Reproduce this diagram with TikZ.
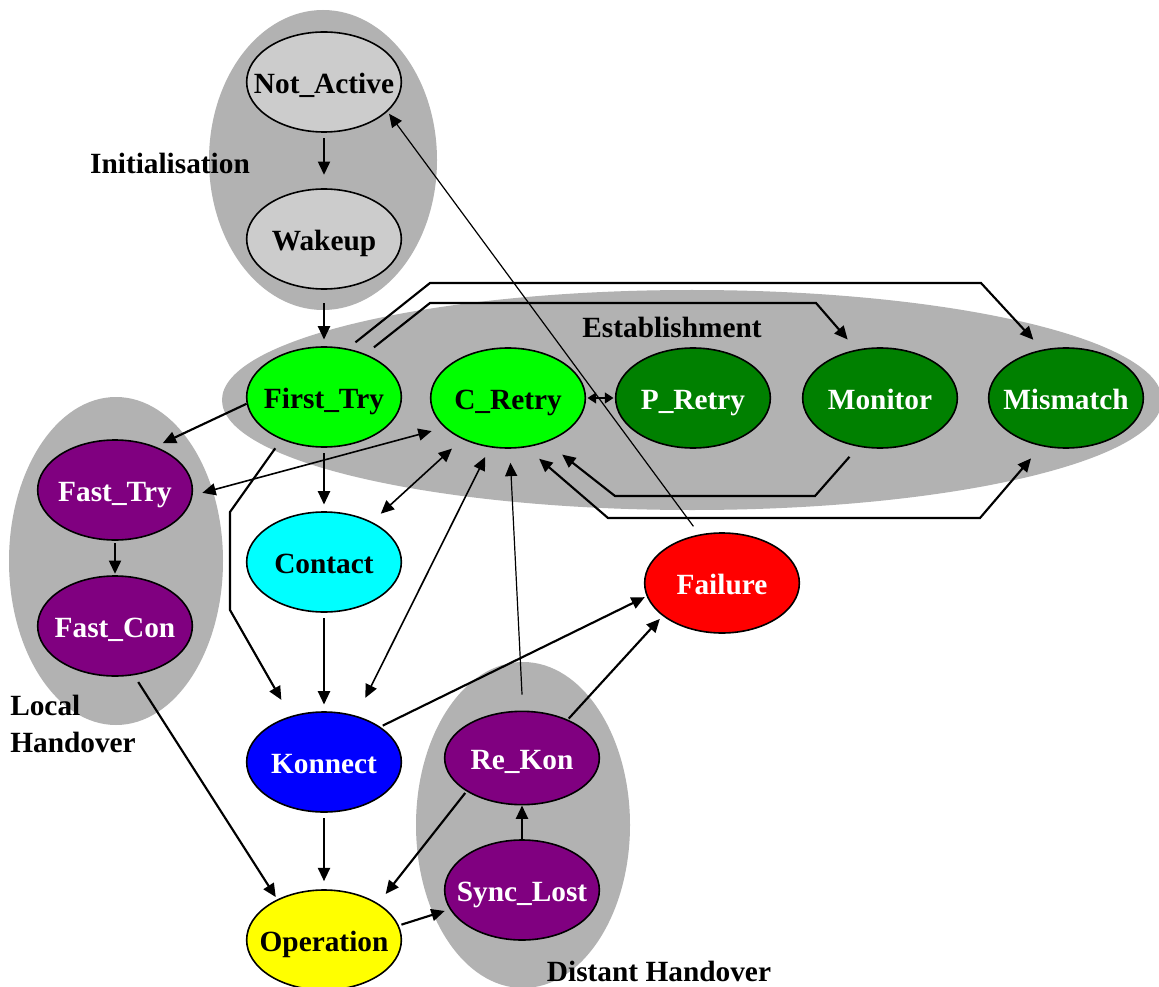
\documentclass[tikz,border=0pt]{standalone}
\usepackage{fontspec}
\setmainfont{Liberation Serif}
\usetikzlibrary{shapes.geometric,arrows.meta}
\definecolor{clgrey}{RGB}{178,178,178}
\definecolor{ltgrey}{RGB}{204,204,204}
\definecolor{lgreen}{RGB}{0,255,0}
\definecolor{dgreen}{RGB}{0,128,0}
\definecolor{purp}{RGB}{128,0,128}
\definecolor{cyanc}{RGB}{0,255,255}
\definecolor{bluec}{RGB}{0,0,255}
\definecolor{yellowc}{RGB}{255,255,0}
\definecolor{redc}{RGB}{255,0,0}
\begin{document}
\begin{tikzpicture}[x=0.75pt,y=-0.75pt,
  font=\bfseries\fontsize{22}{27.75}\selectfont,
  st/.style={ellipse, draw=black, line width=1.2pt, minimum width=116pt, minimum height=75pt, inner sep=0pt},
  wl/.style={label={[text=white, text height=14.5pt, text depth=0pt, yshift=-1.5pt]center:#1}},
  bl/.style={label={[text=black, text height=14.5pt, text depth=0pt, yshift=-1.5pt]center:#1}},
  tip/.style={-{Triangle[length=10pt,width=9pt]}},
  dtip/.style={{Triangle[length=10pt,width=9pt]}-{Triangle[length=10pt,width=9pt]}},
  stip/.style={{Triangle[length=6.5pt,width=8pt]}-{Triangle[length=6.5pt,width=8pt]}},
  w1/.style={line width=1.6pt},
  w2/.style={line width=1.2pt},
  w3/.style={line width=0.9pt}]
\fill[white] (0,0) rectangle (1159,987);
\useasboundingbox (0,0) rectangle (1159,987);
% clusters
\fill[clgrey] (323,160) ellipse [x radius=85.5pt, y radius=112.5pt];
\fill[clgrey] (692,400) ellipse [x radius=352.5pt, y radius=82.5pt];
\fill[clgrey] (116,561) ellipse [x radius=80.25pt, y radius=123pt];
\fill[clgrey] (523,825) ellipse [x radius=80.25pt, y radius=122.25pt];
% states
\node[st, fill=ltgrey, bl=Not\_Active] (NotActive) at (324,82) {};
\node[st, fill=ltgrey, bl=Wakeup] (Wakeup) at (324,239) {};
\node[st, fill=lgreen, bl=First\_Try] (FirstTry) at (324,397) {};
\node[st, fill=lgreen, bl=C\_Retry] (CRetry) at (508,398) {};
\node[st, fill=dgreen, wl=P\_Retry] (PRetry) at (693,398) {};
\node[st, fill=dgreen, wl=Monitor] (Monitor) at (880,398) {};
\node[st, fill=dgreen, wl=Mismatch] (Mismatch) at (1066,398) {};
\node[st, fill=purp, wl=Fast\_Try] (FastTry) at (115,490) {};
\node[st, fill=purp, wl=Fast\_Con] (FastCon) at (115,626) {};
\node[st, fill=cyanc, bl=Contact] (Contact) at (324,562) {};
\node[st, fill=bluec, wl=Konnect] (Konnect) at (324,762) {};
\node[st, fill=yellowc, bl=Operation] (Operation) at (324,940) {};
\node[st, fill=purp, minimum height=70pt, wl=Re\_Kon] (ReKon) at (522,758) {};
\node[st, fill=purp, wl=Sync\_Lost] (SyncLost) at (522,890) {};
\node[st, fill=redc, wl=Failure] (Failure) at (722,583) {};
% cluster labels
\node (LInit) at (170,163) {Initialisation};
\node (LEst) at (672,327) {Establishment};
\node[anchor=north west, inner sep=0pt, align=left] (LLocal) at (10,695) {Local\\Handover};
\node (LDist) at (659,971) {Distant Handover};
% bend points
\coordinate (k1) at (230,512); \coordinate (k2) at (230,610);
\coordinate (m1) at (815,496); \coordinate (m2) at (615,496);
\coordinate (x1) at (608,518); \coordinate (x2) at (980,518);
\coordinate (p1) at (430,303); \coordinate (p2) at (816,303);
\coordinate (q1) at (430,283); \coordinate (q2) at (981,283);
% connectors
\draw[tip, w1, shorten <=4pt, shorten >=10pt] (NotActive) -- (Wakeup);
\draw[tip, w1, shorten <=10pt, shorten >=5pt] (Wakeup) -- (FirstTry);
\draw[tip, w1, shorten <=4pt, shorten >=5pt] (FirstTry) -- (Contact);
\draw[tip, w1, shorten <=4pt, shorten >=5pt] (Contact) -- (Konnect);
\draw[tip, w1, shorten <=4pt, shorten >=6pt] (Konnect) -- (Operation);
\draw[tip, w1, shorten <=2pt, shorten >=1pt] (FastTry) -- (FastCon);
\draw[tip, w1] (SyncLost) -- (ReKon);
\draw[tip, w1, shorten >=6pt] (FirstTry.185) -- (FastTry.47);
\draw[dtip, w2, shorten <=7.5pt, shorten >=10pt] (FastTry.-4) -- (CRetry.205);
\draw[tip, w1, shorten <=8pt, shorten >=14pt] (FirstTry.225) -- (k1) -- (k2) -- (Konnect.126);
\draw[dtip, w2, shorten <=9pt, shorten >=10.5pt] (Contact.40) -- (CRetry.222);
\draw[dtip, w2, shorten <=15pt, shorten >=8pt] (Konnect.55) -- (CRetry.250);
\draw[tip, w3, shorten <=12pt, shorten >=10.5pt] (ReKon.89) -- (CRetry.272);
\draw[tip, w1, shorten <=10pt, shorten >=15pt] (Monitor.246) -- (m1) -- (m2) -- (CRetry.311);
\draw[dtip, w1, shorten <=13pt, shorten >=12pt] (CRetry.290) -- (x1) -- (x2) -- (Mismatch.243);
\draw[tip, w1, shorten <=8pt, shorten >=10pt] (FirstTry.46) -- (p1) -- (p2) -- (Monitor.116);
\draw[tip, w1, shorten <=7.5pt, shorten >=10pt] (FirstTry.64) -- (q1) -- (q2) -- (Mismatch.116);
\draw[stip, w1, shorten <=1pt, shorten >=1pt] (CRetry) -- (PRetry);
\draw[tip, w3, shorten <=7.5pt, shorten >=2pt] (Failure.115) -- (NotActive.-25);
\draw[tip, w1, shorten <=2pt, shorten >=1.5pt] (Konnect.32) -- (Failure.190);
\draw[tip, w1, shorten <=1pt, shorten >=3pt] (ReKon.40) -- (Failure.209);
\draw[tip, w1, shorten <=1.5pt, shorten >=9pt] (ReKon.211) -- (Operation.34);
\draw[tip, w1, shorten <=2pt, shorten >=4pt] (Operation.11) -- (SyncLost.195);
\draw[tip, w1, shorten <=6pt, shorten >=2pt] (FastCon.291) -- (Operation.139);
\end{tikzpicture}
\end{document}
